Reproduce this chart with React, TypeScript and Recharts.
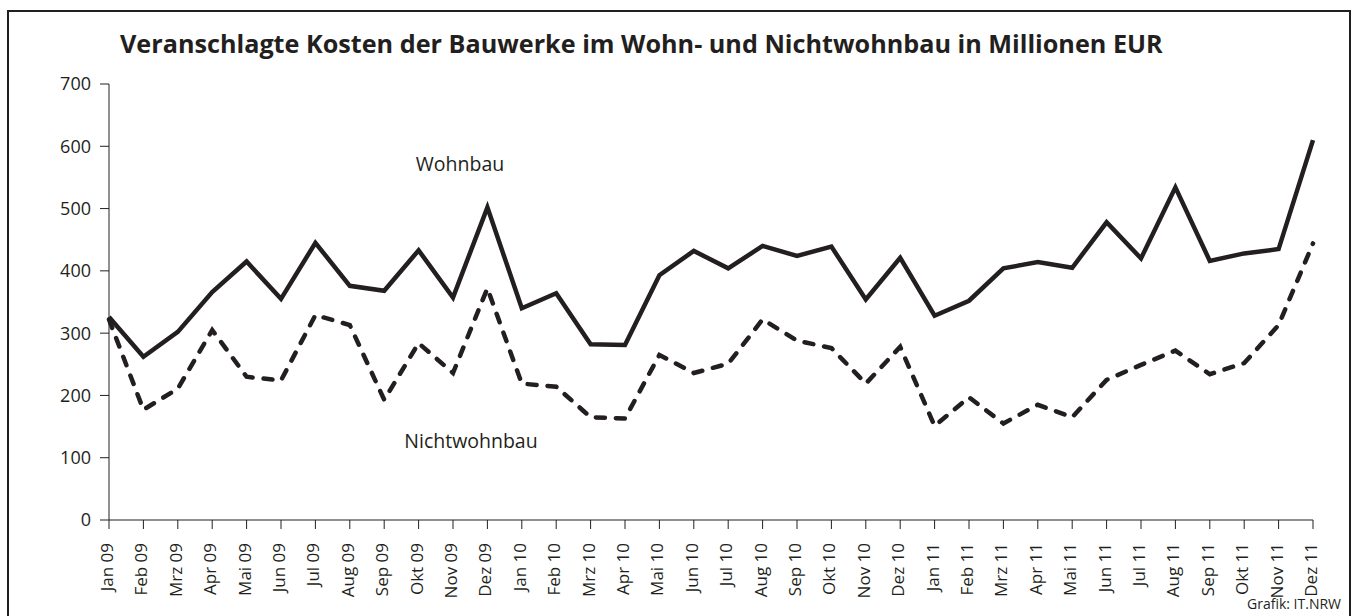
import { LineChart, Line, XAxis, YAxis, ReferenceDot } from "recharts";

const monate = [
  "Jan 09", "Feb 09", "Mrz 09", "Apr 09", "Mai 09", "Jun 09", "Jul 09", "Aug 09", "Sep 09", "Okt 09", "Nov 09", "Dez 09",
  "Jan 10", "Feb 10", "Mrz 10", "Apr 10", "Mai 10", "Jun 10", "Jul 10", "Aug 10", "Sep 10", "Okt 10", "Nov 10", "Dez 10",
  "Jan 11", "Feb 11", "Mrz 11", "Apr 11", "Mai 11", "Jun 11", "Jul 11", "Aug 11", "Sep 11", "Okt 11", "Nov 11", "Dez 11",
];

const wohnbau = [
  326, 262, 302, 366, 415, 355, 445, 376, 368, 433, 357, 502,
  340, 364, 282, 281, 393, 432, 404, 440, 424, 439, 354, 421,
  328, 352, 404, 414, 405, 478, 420, 534, 416, 428, 435, 610,
];

const nichtwohnbau = [
  322, 177, 211, 305, 230, 224, 329, 313, 193, 284, 236, 372,
  219, 214, 165, 163, 265, 236, 251, 322, 288, 276, 219, 278,
  151, 197, 155, 185, 165, 225, 249, 272, 234, 252, 313, 444,
];

const yTicks = [0, 100, 200, 300, 400, 500, 600, 700];

const daten = monate.map((m, i) => ({ m, wohnbau: wohnbau[i], nichtwohnbau: nichtwohnbau[i] }));

const farbe = "#231f20";
const schrift = "'Open Sans', 'Noto Sans', sans-serif";

function MonatTick({ x, y, payload }: any) {
  return (
    <text
      x={x}
      y={y}
      dy={4}
      transform={`rotate(-90, ${x}, ${y})`}
      textAnchor="end"
      fill={farbe}
      fontSize={17}
      fontFamily={schrift}
    >
      {payload.value}
    </text>
  );
}

function serienLabel(text: string, dx: number) {
  return (props: any) => {
    const vb = props.viewBox;
    const cx = vb.x + vb.width / 2 + dx;
    const cy = vb.y + vb.height / 2;
    return (
      <text x={cx} y={cy} dy={6} textAnchor="middle" fill={farbe} fontSize={19.5} fontFamily={schrift}>
        {text}
      </text>
    );
  };
}

export default function App() {
  return (
    <div style={{ position: "absolute", left: 0, top: 0, width: 1357, height: 616, overflow: "hidden", background: "#fff" }}>
      <div
        style={{
          position: "absolute",
          left: 7,
          top: 10,
          width: 1340,
          height: 640,
          borderTop: `2px solid ${farbe}`,
          borderLeft: `2px solid ${farbe}`,
          borderRight: `2px solid ${farbe}`,
        }}
      />
      <div
        style={{
          position: "absolute",
          left: 120,
          top: 26,
          fontFamily: schrift,
          fontWeight: 700,
          fontSize: 25.2,
          color: farbe,
          whiteSpace: "nowrap",
        }}
      >
        Veranschlagte Kosten der Bauwerke im Wohn- und Nichtwohnbau in Millionen EUR
      </div>
      <div
        style={{
          position: "absolute",
          right: 16,
          top: 594,
          fontFamily: schrift,
          fontSize: 14,
          color: farbe,
          whiteSpace: "nowrap",
        }}
      >
        Grafik: IT.NRW
      </div>
      <div style={{ position: "absolute", left: 0, top: 0 }}>
        <LineChart width={1357} height={616} data={daten} margin={{ top: 84, right: 44, left: 0, bottom: 0 }}>
          <XAxis
            dataKey="m"
            interval={0}
            height={96}
            tickSize={9}
            tickMargin={14}
            tick={<MonatTick />}
            axisLine={{ stroke: farbe, strokeWidth: 1 }}
            tickLine={{ stroke: farbe, strokeWidth: 1 }}
          />
          <YAxis
            width={109}
            domain={[0, 700]}
            ticks={yTicks}
            interval={0}
            tickSize={9}
            tickMargin={9}
            axisLine={{ stroke: farbe, strokeWidth: 1 }}
            tickLine={{ stroke: farbe, strokeWidth: 1 }}
            tick={{ fill: farbe, fontSize: 18, fontFamily: schrift }}
          />
          <Line
            type="linear"
            dataKey="wohnbau"
            stroke={farbe}
            strokeWidth={4.5}
            strokeLinejoin="miter"
            dot={false}
            isAnimationActive={false}
          />
          <Line
            type="linear"
            dataKey="nichtwohnbau"
            stroke={farbe}
            strokeWidth={4.5}
            strokeDasharray="9 11"
            strokeLinecap="round"
            dot={false}
            isAnimationActive={false}
          />
          <ReferenceDot x="Nov 09" y={570} r={1} fill="none" stroke="none" label={serienLabel("Wohnbau", 7)} />
          <ReferenceDot x="Nov 09" y={125} r={1} fill="none" stroke="none" label={serienLabel("Nichtwohnbau", 18)} />
        </LineChart>
      </div>
    </div>
  );
}
